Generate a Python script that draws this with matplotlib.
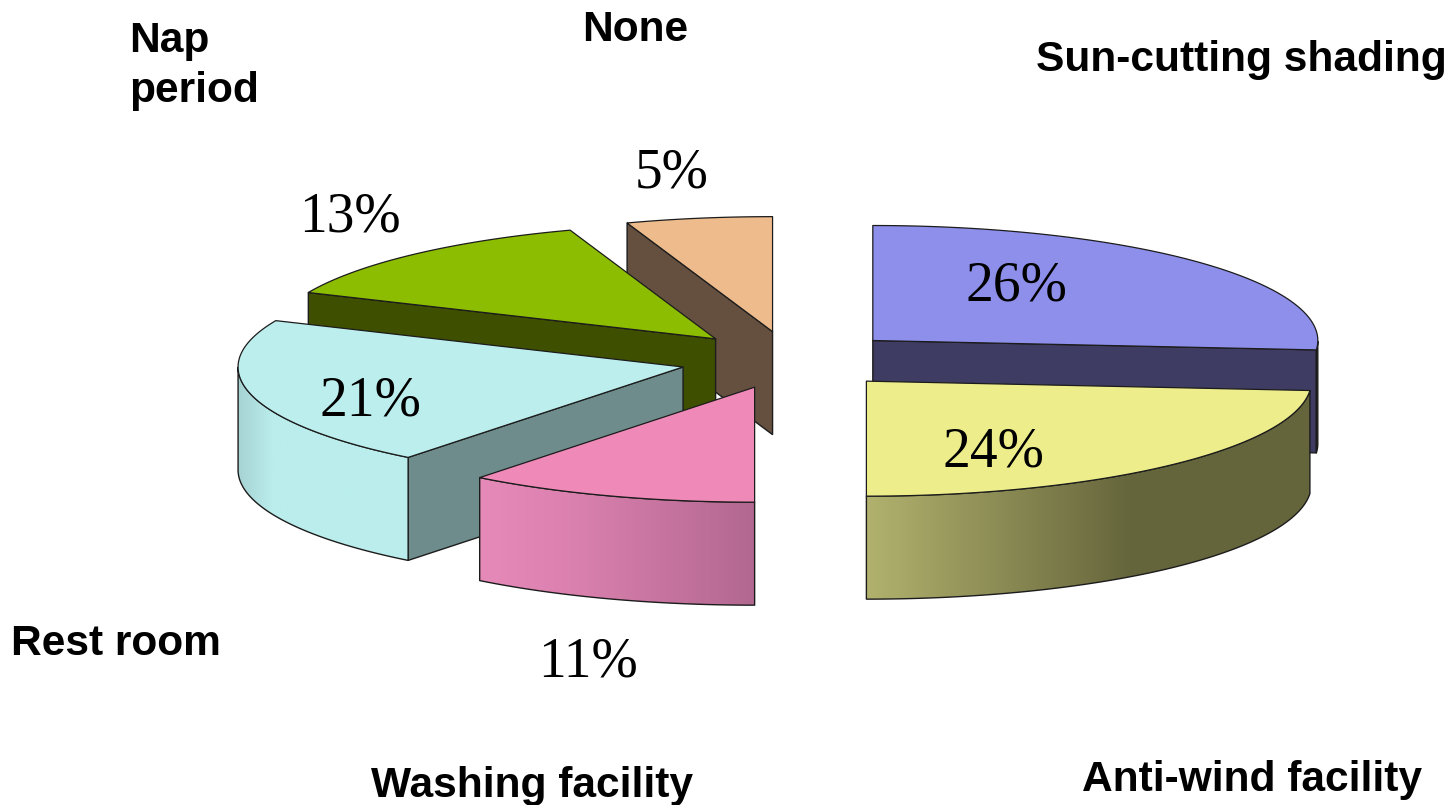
import numpy as np
import matplotlib
matplotlib.use("Agg")
import matplotlib.pyplot as plt
from matplotlib.colors import to_rgb
from matplotlib.patches import Polygon

# ---- data ----
categories = ["Sun-cutting shading", "Anti-wind facility", "Washing facility",
              "Rest room", "Nap\nperiod", "None"]
shares = [26.3, 23.7, 10.6, 21.0, 13.1, 5.3]

# ---- styles ----
top_colors = ["#8D8FEB", "#EDED8B", "#EE89B8", "#BDEEEE", "#8CBD00", "#EDBB8C"]
face_colors = ["#3E3C62", "#65653C", "#B36A90", "#6F8C8C", "#3F4F00", "#655040"]
rim_stops = [
    [(0, "#3E3C62"), (1, "#3E3C62")],
    [(0, "#B2B26E"), (0.6, "#65653C"), (1, "#65653C")],
    [(0, "#E68AB9"), (0.3, "#DD82B0"), (1, "#B26890")],
    [(0, "#A6D2D2"), (0.2, "#BBEDED"), (1, "#BBEDED")],
    [(0, "#3F4F00"), (1, "#3F4F00")],
    [(0, "#655040"), (1, "#655040")],
]
EDGE = "#1c1c1c"

# ---- layout (pixels) ----
CX, CY, RX, RY, DEPTH = 791, 360, 445, 115, 103
EXPLODE = 0.25
draw_order = [5, 4, 0, 3, 2, 1]
name_pos = [(1036, 71), (1082, 791), (371, 797), (11, 655), (129, 102), (582, 41)]
pct_pos = [(1016, 300), (993, 466), (588, 676), (370, 415), (350, 231), (672, 187)]

fig = plt.figure(figsize=(14.52, 8.05), dpi=100, facecolor="white")
ax = fig.add_axes([0, 0, 1, 1])


def ell(ox, oy, deg):
    r = np.radians(deg)
    return ox + RX * np.cos(r), oy - RY * np.sin(r)


def gradient_fill(poly, stops, z):
    xs = poly[:, 0]
    x0, x1 = xs.min(), xs.max()
    fr = np.linspace(0, 1, 256)
    pos = [s[0] for s in stops]
    cols = np.array([to_rgb(s[1]) for s in stops])
    img = np.stack([np.interp(fr, pos, cols[:, i]) for i in range(3)], axis=-1)[None, :, :]
    im = ax.imshow(img, extent=(x0, x1, poly[:, 1].max(), poly[:, 1].min()),
                   aspect="auto", zorder=z, interpolation="bilinear")
    patch = Polygon(poly, closed=True, transform=ax.transData, facecolor="none", edgecolor="none")
    ax.add_patch(patch)
    im.set_clip_path(patch)
    ax.add_patch(Polygon(poly, closed=True, facecolor="none", edgecolor=EDGE, lw=1.0,
                         zorder=z + 0.1, joinstyle="round"))


total = sum(shares)
starts = 90 - 360 * np.cumsum([0] + shares[:-1]) / total
ends = 90 - 360 * np.cumsum(shares) / total

for rank, i in enumerate(draw_order):
    a1, a2 = starts[i], ends[i]
    mid = np.radians((a1 + a2) / 2)
    ox = CX + EXPLODE * RX * np.cos(mid)
    oy = CY - EXPLODE * RY * np.sin(mid)
    z = 10 + rank * 2

    # radial side faces turned towards the viewer
    for a, visible in ((a1, np.cos(np.radians(a1)) < -1e-6), (a2, np.cos(np.radians(a2)) > 1e-6)):
        if visible:
            ex, ey = ell(ox, oy, a)
            ax.add_patch(Polygon([(ox, oy), (ex, ey), (ex, ey + DEPTH), (ox, oy + DEPTH)],
                                 closed=True, facecolor=face_colors[i], edgecolor=EDGE,
                                 lw=1.0, zorder=z))

    # outer rim, only the part on the near half of the ellipse
    t = np.linspace(a1, a2, 200)
    t = t[np.sin(np.radians(t)) < 0]
    if t.size > 1:
        x, y = ell(ox, oy, t)
        rim = np.vstack([np.column_stack([x, y]), np.column_stack([x, y + DEPTH])[::-1]])
        gradient_fill(rim, rim_stops[i], z + 0.3)

    # top surface
    t = np.linspace(a1, a2, 200)
    x, y = ell(ox, oy, t)
    ax.add_patch(Polygon(np.vstack([[ox, oy], np.column_stack([x, y])]), closed=True,
                         facecolor=top_colors[i], edgecolor=EDGE, lw=0.9, zorder=z + 1,
                         joinstyle="round"))

ax.set_xlim(0, 1452)
ax.set_ylim(805, 0)
ax.axis("off")

for name, (x, y) in zip(categories, name_pos):
    ax.text(x, y, name, family="Liberation Sans", weight="bold", fontsize=30.6,
            ha="left", va="baseline", color="black", linespacing=1.33, zorder=50)

for v, (x, y) in zip(shares, pct_pos):
    ax.text(x, y, f"{round(v)}%", family="Liberation Serif", fontsize=40, ha="center",
            va="baseline", color="black", zorder=50)

fig.savefig("out.png", dpi=100, facecolor="white")
